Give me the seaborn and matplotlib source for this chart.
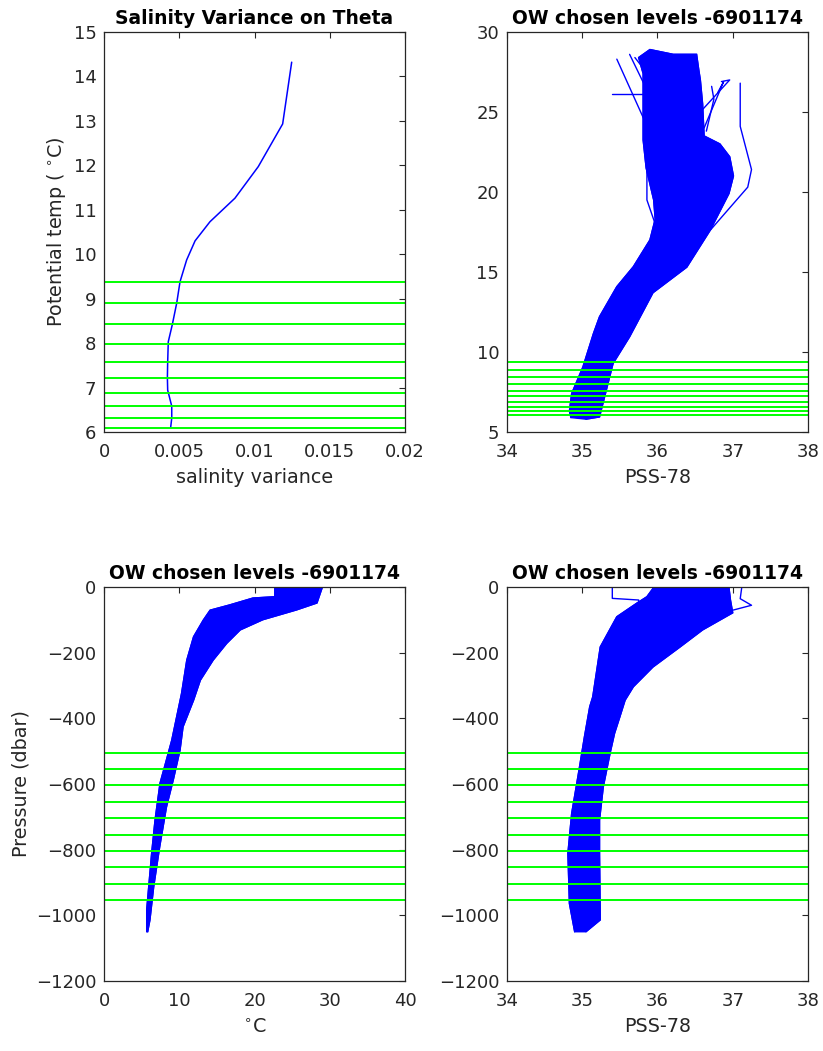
import numpy as np
import pandas as pd
import matplotlib.pyplot as plt
import seaborn as sns

sns.set_style("white")
plt.rcParams['font.family'] = ['DejaVu Sans']

# salinity variance on theta levels
sal_var = [0.00443, 0.0045, 0.0045, 0.00423, 0.00421, 0.00423, 0.00427, 0.00454, 0.00483,
           0.00505, 0.00549, 0.00605, 0.00704, 0.0087, 0.01025, 0.01187, 0.01247]
var_theta = [6.11, 6.31, 6.58, 6.94, 7.22, 7.58, 8.03, 8.42, 8.90,
             9.38, 9.87, 10.30, 10.73, 11.26, 11.97, 12.93, 14.32]

# chosen theta levels and the matching pressure levels
theta_levels = [6.08, 6.31, 6.58, 6.87, 7.22, 7.58, 7.99, 8.42, 8.90, 9.38]
pres_levels = [-505, -553, -604, -655, -704, -754, -803, -853, -904, -953]

# outline of the bundle of profiles: theta/salinity
ts_sal = [34.85, 34.83, 34.86, 35.01, 35.15, 35.23, 35.46, 35.68, 35.90, 35.97, 35.95, 35.85,
          35.81, 35.81, 35.75, 35.90, 36.21, 36.52, 36.55, 36.57, 36.60, 36.62, 36.83, 36.96,
          37.01, 36.95, 36.70, 36.39, 35.94, 35.63, 35.41, 35.23, 35.05]
ts_theta = [5.9, 6.3, 7.4, 9.07, 11.16, 12.2, 14.08, 15.33, 17.0, 18.3, 19.5, 21.5,
            23.25, 27.4, 28.4, 28.9, 28.6, 28.6, 27.6, 27.0, 25.5, 23.5, 23.0, 22.2,
            21.0, 19.9, 17.6, 15.3, 13.7, 10.95, 9.28, 5.94, 5.8]

# outline: temperature/pressure
tp_temp = [5.67, 5.67, 6.33, 6.78, 7.44, 8.1, 9.0, 10.3, 11.0, 11.9, 13.2, 14.1, 16.7, 19.8,
           22.7, 22.7, 29.0, 28.3, 25.6, 21.1, 18.1, 16.3, 14.5, 12.8, 11.9,
           10.5, 10.1, 9.2, 8.3, 7.4, 6.6, 6.1, 5.8]
tp_pres = [-1050, -984, -811, -710, -598, -543, -467, -325, -223, -152, -101, -71, -55, -34,
           -30, -2, -2, -49, -70, -100, -131, -172, -223, -284, -345,
           -426, -497, -588, -670, -791, -913, -1014, -1050]

# outline: salinity/pressure
sp_sal = [34.90, 34.83, 34.81, 34.86, 34.95, 35.03, 35.10, 35.14, 35.24, 35.46, 35.73,
          35.86, 35.94, 35.94, 36.95, 36.97, 37.00, 36.60, 36.30, 35.94, 35.68,
          35.57, 35.50, 35.43, 35.37, 35.28, 35.23, 35.23, 35.24, 35.05]
sp_pres = [-1050, -964, -811, -690, -568, -456, -365, -335, -183, -91, -49,
           -30, -5, -2, -2, -40, -79, -131, -183, -244, -304,
           -345, -396, -446, -507, -609, -710, -811, -1014, -1050]

# stray profiles outside the bundle
ts_out_sal = [36.70, 37.20, 37.25, 37.10, 37.10]
ts_out_theta = [17.6, 20.3, 21.4, 24.1, 26.8]
ts_f1_sal = [35.40, 35.86]
ts_f1_theta = [26.1, 26.1]
ts_f2_sal = [35.46, 35.94]
ts_f2_theta = [28.3, 23.3]
ts_f3_sal = [36.57, 36.96, 36.85]
ts_f3_theta = [25.0, 27.0, 26.9]
ts_f4_sal = [36.62, 36.88, 36.80]
ts_f4_theta = [24.0, 26.9, 26.2]
ts_f5_sal = [35.97, 35.86, 35.86, 36.01]
ts_f5_theta = [18.0, 19.5, 22.6, 20.65]
ts_f6_sal = [35.63, 35.95, 35.81]
ts_f6_theta = [28.6, 25.5, 24.8]
ts_f7_sal = [35.70, 36.00]
ts_f7_theta = [28.4, 26.6]
ts_f8_sal = [36.65, 36.75, 36.72]
ts_f8_theta = [23.8, 25.8, 26.6]
sp_out_sal = [37.12, 37.10, 37.25, 37.00, 36.90]
sp_out_pres = [-2, -36, -56, -71, -80]
sp_f1_sal = [35.40, 35.40, 35.75, 35.75]
sp_f1_pres = [-2, -35, -40, -60]

blue = (0, 0, 1)
green = (0, 1, 0)
dark = '#262626'

fig, axes = plt.subplots(2, 2, figsize=(8.23, 10.51), dpi=100)
ax1, ax2, ax3, ax4 = axes.flatten()
ax1.set_position([0.1264, 0.589, 0.3657, 0.3806])
ax2.set_position([0.616, 0.589, 0.3657, 0.3806])
ax3.set_position([0.1264, 0.0666, 0.3657, 0.375])
ax4.set_position([0.616, 0.0666, 0.3657, 0.375])


def line(ax, x, y, **kw):
    df = pd.DataFrame({'x': x, 'y': y})
    sns.lineplot(data=df, x='x', y='y', sort=False, estimator=None, ax=ax, **kw)


title_kw = dict(fontweight='bold', fontsize=13.5, pad=6, color='black')

# top left
line(ax1, sal_var, var_theta, color=blue, linewidth=1.1)
for t in theta_levels:
    ax1.axhline(t, color=green, linewidth=1.4)
ax1.set_xlim(0, 0.02)
ax1.set_ylim(6, 15)
ax1.set_xticks([0, 0.005, 0.01, 0.015, 0.02])
ax1.set_xticklabels(['0', '0.005', '0.01', '0.015', '0.02'])
ax1.set_yticks(range(6, 16))
ax1.set_title('Salinity Variance on Theta', **title_kw)
ax1.set_xlabel('salinity variance', fontsize=13.8, labelpad=5)
ax1.set_ylabel(r'Potential temp ( $^{\circ}$C)', fontsize=13.8)

# top right
ax2.fill(ts_sal, ts_theta, color=blue, linewidth=1)
line(ax2, ts_sal, ts_theta, color=blue, linewidth=1)
for xs, ys in [(ts_out_sal, ts_out_theta), (ts_f1_sal, ts_f1_theta), (ts_f2_sal, ts_f2_theta),
               (ts_f3_sal, ts_f3_theta), (ts_f4_sal, ts_f4_theta), (ts_f5_sal, ts_f5_theta),
               (ts_f6_sal, ts_f6_theta), (ts_f7_sal, ts_f7_theta), (ts_f8_sal, ts_f8_theta)]:
    line(ax2, xs, ys, color=blue, linewidth=1)
for t in theta_levels:
    ax2.axhline(t, color=green, linewidth=1.4)
ax2.set_xlim(34, 38)
ax2.set_ylim(5, 30)
ax2.set_xticks([34, 35, 36, 37, 38])
ax2.set_yticks([5, 10, 15, 20, 25, 30])
ax2.set_title('OW chosen levels -6901174', **title_kw)
ax2.set_xlabel('PSS-78', fontsize=13.8, labelpad=5)
ax2.set_ylabel('')

# bottom left
ax3.fill(tp_temp, tp_pres, color=blue, linewidth=1)
line(ax3, tp_temp, tp_pres, color=blue, linewidth=1)
for p in pres_levels:
    ax3.axhline(p, color=green, linewidth=1.4)
ax3.set_xlim(0, 40)
ax3.set_ylim(-1200, 0)
ax3.set_xticks([0, 10, 20, 30, 40])
ax3.set_yticks(range(-1200, 1, 200))
ax3.set_title('OW chosen levels -6901174', **title_kw)
ax3.set_xlabel(r'$^{\circ}$C', fontsize=13.8, labelpad=5)
ax3.set_ylabel('Pressure (dbar)', fontsize=13.8)

# bottom right
ax4.fill(sp_sal, sp_pres, color=blue, linewidth=1)
line(ax4, sp_sal, sp_pres, color=blue, linewidth=1)
line(ax4, sp_out_sal, sp_out_pres, color=blue, linewidth=1)
line(ax4, sp_f1_sal, sp_f1_pres, color=blue, linewidth=1)
for p in pres_levels:
    ax4.axhline(p, color=green, linewidth=1.4)
ax4.set_xlim(34, 38)
ax4.set_ylim(-1200, 0)
ax4.set_xticks([34, 35, 36, 37, 38])
ax4.set_yticks(range(-1200, 1, 200))
ax4.set_title('OW chosen levels -6901174', **title_kw)
ax4.set_xlabel('PSS-78', fontsize=13.8, labelpad=5)
ax4.set_ylabel('')

for ax in axes.flatten():
    ax.tick_params(direction='in', top=True, right=True, length=4, width=0.8,
                   labelsize=13, colors=dark, labelcolor=dark)
    ax.tick_params(axis='x', pad=8)
    ax.tick_params(axis='y', pad=5.5)
    for s in ax.spines.values():
        s.set_color(dark)
        s.set_linewidth(0.9)
    ax.xaxis.label.set_color(dark)
    ax.yaxis.label.set_color(dark)

fig.savefig('out.png', dpi=100)
